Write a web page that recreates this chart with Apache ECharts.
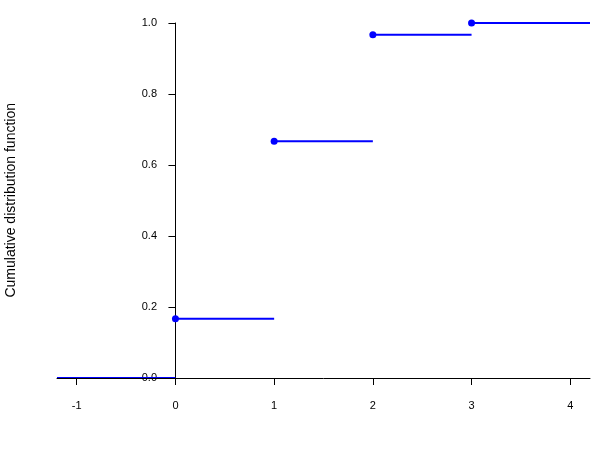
<!DOCTYPE html>
<html><head><meta charset="utf-8">
<script src="https://cdn.jsdelivr.net/npm/echarts@6/dist/echarts.min.js"></script>
</head><body style="margin:0">
<div id="c" style="width:600px;height:450px"></div>
<script>
const steps = [0, 1, 2, 3];
const cdf = [0.1667, 0.6667, 0.9667, 1.0];
const xTicks = [-1, 0, 1, 2, 3, 4];
const yTicks = [0, 0.2, 0.4, 0.6, 0.8, 1.0];
const xMin = -1.2, xMax = 4.2;

const series = [];
const starts = [xMin].concat(steps);
const vals = [0].concat(cdf);
for (let i = 0; i < starts.length; i++) {
  const end = i + 1 < starts.length ? starts[i + 1] : xMax;
  series.push({type: 'line', data: [[starts[i], vals[i]], [end, vals[i]]], symbol: 'none',
    lineStyle: {color: '#0000ff', width: 2}, clip: false, silent: true, z: 2});
}
series.push({type: 'scatter', data: steps.map((s, i) => [s, cdf[i]]), symbolSize: 7,
  itemStyle: {color: '#0000ff', opacity: 1}, clip: false, z: 3});

const chart = echarts.init(document.getElementById('c'));
const lbl = {color: '#000', fontFamily: 'Arial, Liberation Sans', fontSize: 11};
chart.setOption({
  animation: false,
  grid: {left: 57, right: 10, top: 23, bottom: 72},
  xAxis: {type: 'value', min: xMin, max: xMax,
    axisLine: {onZero: false, lineStyle: {color: '#000', width: 1}},
    axisTick: {show: true, length: 7, lineStyle: {color: '#000'}, customValues: xTicks},
    axisLabel: Object.assign({margin: 22, customValues: xTicks}, lbl),
    splitLine: {show: false}, z: 5},
  yAxis: {type: 'value', min: 0, max: 1,
    axisLine: {show: true, onZero: true, lineStyle: {color: '#000', width: 1}},
    axisTick: {show: true, length: 7, lineStyle: {color: '#000'}, customValues: yTicks},
    axisLabel: Object.assign({margin: -100, customValues: yTicks, formatter: v => v.toFixed(1)}, lbl),
    splitLine: {show: false}},
  graphic: [{type: 'text', left: 4, top: 103, rotation: Math.PI / 2,
    style: {text: 'Cumulative distribution function', fill: '#000', font: '14px Arial, Liberation Sans'}}],
  series: series
});
</script></body></html>
